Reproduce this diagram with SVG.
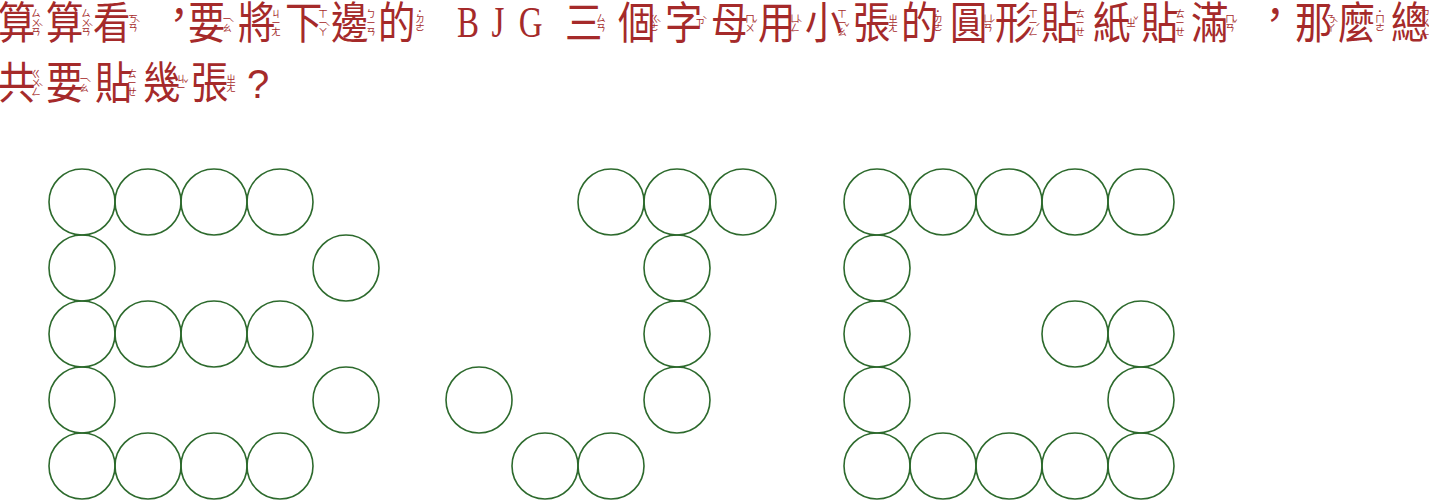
<svg xmlns="http://www.w3.org/2000/svg" width="1429" height="501" viewBox="0 0 1429 501">
<style>
.c{font-family:"Noto Sans CJK TC","Noto Sans CJK SC",sans-serif;font-size:44px;fill:#a52a2a}
.p{font-family:"Noto Sans CJK TC","Noto Sans CJK SC",sans-serif;font-size:40px;fill:#a52a2a}
.b{font-family:"Noto Sans CJK TC","Noto Sans CJK SC",sans-serif;font-size:9.5px;fill:#a52a2a;text-anchor:middle}
.t{font-family:"Noto Sans CJK TC","Noto Sans CJK SC",sans-serif;font-size:9px;fill:#a52a2a;text-anchor:middle}
.l{font-family:"Liberation Serif",serif;font-size:44px;fill:#a52a2a}
.q{font-family:"Liberation Sans",sans-serif;font-size:40px;fill:#a52a2a}
circle{fill:none;stroke:#2d6a2d;stroke-width:1.6}
</style>
<g id="question">
<text class="c" transform="translate(0,38.7) scale(0.85,1)"><tspan x="-2.35">算</tspan><tspan x="54.12">算</tspan><tspan x="109.41">看</tspan><tspan x="221.18">要</tspan><tspan x="280">將</tspan><tspan x="335.29">下</tspan><tspan x="389.41">邊</tspan><tspan x="444.71">的</tspan><tspan x="664.71">三</tspan><tspan x="727.06">個</tspan><tspan x="782.35">字</tspan><tspan x="836.47">母</tspan><tspan x="891.76">用</tspan><tspan x="947.06">小</tspan><tspan x="1003.53">張</tspan><tspan x="1060">的</tspan><tspan x="1117.65">圓</tspan><tspan x="1170.59">形</tspan><tspan x="1224.71">貼</tspan><tspan x="1285.88">紙</tspan><tspan x="1342.35">貼</tspan><tspan x="1401.18">滿</tspan><tspan x="1523.53">那</tspan><tspan x="1574.12">麼</tspan><tspan x="1636.47">總</tspan></text>
<text class="p" y="29"><tspan x="159">，</tspan><tspan x="1255">，</tspan></text>
<text class="l" transform="translate(457,37) scale(0.75,1)"><tspan x="0">B</tspan><tspan x="46">J</tspan><tspan x="82.5">G</tspan></text>
<text class="c" transform="translate(0,98.7) scale(0.85,1)"><tspan x="-2.35">共</tspan><tspan x="54.12">要</tspan><tspan x="111.76">貼</tspan><tspan x="168.24">幾</tspan><tspan x="224.71">張</tspan></text>
<text class="q" x="247" y="98">?</text>
<!-- bopomofo line 1 -->
<text class="b"><tspan x="36" y="17.1">ㄙ</tspan><tspan x="36" y="26.1">ㄨ</tspan><tspan x="36" y="35.1">ㄢ</tspan></text><text class="t" x="41" y="31">ˋ</text>
<text class="b"><tspan x="86" y="17.1">ㄙ</tspan><tspan x="86" y="26.1">ㄨ</tspan><tspan x="86" y="35.1">ㄢ</tspan></text><text class="t" x="91" y="31">ˋ</text>
<text class="b"><tspan x="133" y="21.6">ㄎ</tspan><tspan x="133" y="30.6">ㄢ</tspan></text><text class="t" x="138" y="27">ˋ</text>
<text class="b"><tspan x="227" y="21.6">ㄧ</tspan><tspan x="227" y="30.6">ㄠ</tspan></text><text class="t" x="232" y="27">ˋ</text>
<text class="b"><tspan x="276" y="17.1">ㄐ</tspan><tspan x="276" y="26.1">ㄧ</tspan><tspan x="276" y="35.1">ㄤ</tspan></text>
<text class="b"><tspan x="323" y="17.1">ㄒ</tspan><tspan x="323" y="26.1">ㄧ</tspan><tspan x="323" y="35.1">ㄚ</tspan></text><text class="t" x="328" y="31">ˋ</text>
<text class="b"><tspan x="371" y="17.1">ㄅ</tspan><tspan x="371" y="26.1">ㄧ</tspan><tspan x="371" y="35.1">ㄢ</tspan></text>
<text class="b"><tspan x="420" y="15">˙</tspan><tspan x="420" y="21.6">ㄉ</tspan><tspan x="420" y="30.6">ㄜ</tspan></text>
<text class="b"><tspan x="601" y="21.6">ㄙ</tspan><tspan x="601" y="30.6">ㄢ</tspan></text>
<text class="b"><tspan x="654" y="21.6">ㄍ</tspan><tspan x="654" y="30.6">ㄜ</tspan></text><text class="t" x="659" y="27">ˋ</text>
<text class="b" x="700" y="26.1">ㄗ</text><text class="t" x="705" y="24">ˋ</text>
<text class="b"><tspan x="750" y="21.6">ㄇ</tspan><tspan x="750" y="30.6">ㄨ</tspan></text><text class="t" x="755" y="27">ˇ</text>
<text class="b"><tspan x="795" y="21.6">ㄩ</tspan><tspan x="795" y="30.6">ㄥ</tspan></text><text class="t" x="800" y="27">ˋ</text>
<text class="b"><tspan x="842" y="17.1">ㄒ</tspan><tspan x="842" y="26.1">ㄧ</tspan><tspan x="842" y="35.1">ㄠ</tspan></text><text class="t" x="847" y="31">ˇ</text>
<text class="b"><tspan x="893" y="21.6">ㄓ</tspan><tspan x="893" y="30.6">ㄤ</tspan></text>
<text class="b"><tspan x="938" y="15">˙</tspan><tspan x="938" y="21.6">ㄉ</tspan><tspan x="938" y="30.6">ㄜ</tspan></text>
<text class="b"><tspan x="988" y="21.6">ㄩ</tspan><tspan x="988" y="30.6">ㄢ</tspan></text><text class="t" x="993" y="27">ˊ</text>
<text class="b"><tspan x="1033" y="17.1">ㄒ</tspan><tspan x="1033" y="26.1">ㄧ</tspan><tspan x="1033" y="35.1">ㄥ</tspan></text><text class="t" x="1038" y="31">ˊ</text>
<text class="b"><tspan x="1080" y="17.1">ㄊ</tspan><tspan x="1080" y="26.1">ㄧ</tspan><tspan x="1080" y="35.1">ㄝ</tspan></text>
<text class="b" x="1131" y="26.1">ㄓ</text><text class="t" x="1136" y="24">ˇ</text>
<text class="b"><tspan x="1180" y="17.1">ㄊ</tspan><tspan x="1180" y="26.1">ㄧ</tspan><tspan x="1180" y="35.1">ㄝ</tspan></text>
<text class="b"><tspan x="1230" y="21.6">ㄇ</tspan><tspan x="1230" y="30.6">ㄢ</tspan></text><text class="t" x="1235" y="27">ˇ</text>
<text class="b"><tspan x="1331" y="21.6">ㄋ</tspan><tspan x="1331" y="30.6">ㄚ</tspan></text><text class="t" x="1336" y="27">ˋ</text>
<text class="b"><tspan x="1380" y="15">˙</tspan><tspan x="1380" y="21.6">ㄇ</tspan><tspan x="1380" y="30.6">ㄜ</tspan></text>
<text class="b"><tspan x="1425" y="17.1">ㄗ</tspan><tspan x="1425" y="26.1">ㄨ</tspan><tspan x="1425" y="35.1">ㄥ</tspan></text><text class="t" x="1429" y="31">ˇ</text>
<!-- bopomofo line 2 -->
<text class="b"><tspan x="36" y="77.1">ㄍ</tspan><tspan x="36" y="86.1">ㄨ</tspan><tspan x="36" y="95.1">ㄥ</tspan></text><text class="t" x="41" y="91">ˋ</text>
<text class="b"><tspan x="84" y="81.6">ㄧ</tspan><tspan x="84" y="90.6">ㄠ</tspan></text><text class="t" x="89" y="87">ˋ</text>
<text class="b"><tspan x="132" y="77.1">ㄊ</tspan><tspan x="132" y="86.1">ㄧ</tspan><tspan x="132" y="95.1">ㄝ</tspan></text>
<text class="b"><tspan x="181" y="81.6">ㄐ</tspan><tspan x="181" y="90.6">ㄧ</tspan></text><text class="t" x="186" y="87">ˇ</text>
<text class="b"><tspan x="231" y="81.6">ㄓ</tspan><tspan x="231" y="90.6">ㄤ</tspan></text>
</g>
<g id="letter-B">
<circle cx="82" cy="202" r="33"/><circle cx="148" cy="202" r="33"/><circle cx="214" cy="202" r="33"/><circle cx="280" cy="202" r="33"/>
<circle cx="82" cy="268" r="33"/><circle cx="346" cy="268" r="33"/>
<circle cx="82" cy="334" r="33"/><circle cx="148" cy="334" r="33"/><circle cx="214" cy="334" r="33"/><circle cx="280" cy="334" r="33"/>
<circle cx="82" cy="400" r="33"/><circle cx="346" cy="400" r="33"/>
<circle cx="82" cy="466" r="33"/><circle cx="148" cy="466" r="33"/><circle cx="214" cy="466" r="33"/><circle cx="280" cy="466" r="33"/>
</g>
<g id="letter-J">
<circle cx="611" cy="202" r="33"/><circle cx="677" cy="202" r="33"/><circle cx="743" cy="202" r="33"/>
<circle cx="677" cy="268" r="33"/>
<circle cx="677" cy="334" r="33"/>
<circle cx="479" cy="400" r="33"/><circle cx="677" cy="400" r="33"/>
<circle cx="545" cy="466" r="33"/><circle cx="611" cy="466" r="33"/>
</g>
<g id="letter-G">
<circle cx="877" cy="202" r="33"/><circle cx="943" cy="202" r="33"/><circle cx="1009" cy="202" r="33"/><circle cx="1075" cy="202" r="33"/><circle cx="1141" cy="202" r="33"/>
<circle cx="877" cy="268" r="33"/>
<circle cx="877" cy="334" r="33"/><circle cx="1075" cy="334" r="33"/><circle cx="1141" cy="334" r="33"/>
<circle cx="877" cy="400" r="33"/><circle cx="1141" cy="400" r="33"/>
<circle cx="877" cy="466" r="33"/><circle cx="943" cy="466" r="33"/><circle cx="1009" cy="466" r="33"/><circle cx="1075" cy="466" r="33"/><circle cx="1141" cy="466" r="33"/>
</g>
</svg>
